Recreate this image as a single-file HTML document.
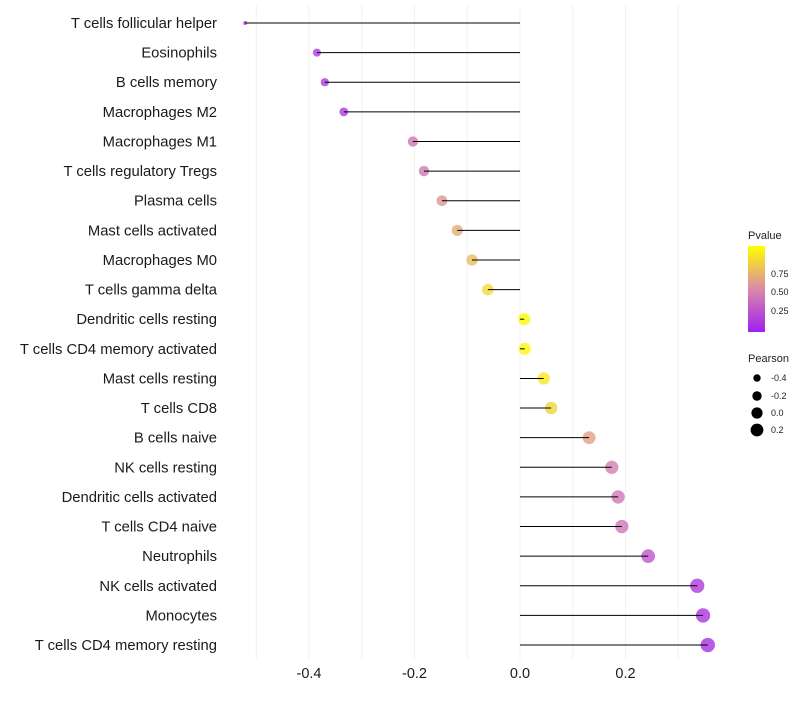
<!DOCTYPE html>
<html><head><meta charset="utf-8"><style>
body{margin:0;background:#fff;font-family:"Liberation Sans",sans-serif}
</style></head><body>
<svg id="c" width="800" height="700" xmlns="http://www.w3.org/2000/svg">
<defs><linearGradient id="pg" x1="0" y1="1" x2="0" y2="0">
<stop offset="0" stop-color="#a020f0"/><stop offset="0.5" stop-color="#d98aa8"/><stop offset="1" stop-color="#ffff00"/>
</linearGradient></defs>
<g id="grid"></g><g id="dots"></g><g id="marks"></g><g id="labels"></g><g id="xt"></g>
<g font-size="9" fill="#222">
<text x="748" y="239" font-size="11">Pvalue</text>
<rect x="748" y="246" width="17" height="86" fill="url(#pg)"/>
<text x="771" y="277">0.75</text><text x="771" y="295">0.50</text><text x="771" y="314">0.25</text>
<text x="748" y="362" font-size="11">Pearson</text>
<circle cx="757" cy="378" r="3.7" fill="#000"/><text x="771" y="381">-0.4</text>
<circle cx="757" cy="396" r="4.7" fill="#000"/><text x="771" y="399">-0.2</text>
<circle cx="757" cy="413" r="5.6" fill="#000"/><text x="771" y="416">0.0</text>
<circle cx="757" cy="430" r="6.4" fill="#000"/><text x="771" y="433">0.2</text>
</g>
</svg>
<script>
const categories=["T cells follicular helper","Eosinophils","B cells memory","Macrophages M2","Macrophages M1","T cells regulatory  Tregs","Plasma cells","Mast cells activated","Macrophages M0","T cells gamma delta","Dendritic cells resting","T cells CD4 memory activated","Mast cells resting","T cells CD8","B cells naive","NK cells resting","Dendritic cells activated","T cells CD4 naive","Neutrophils","NK cells activated","Monocytes","T cells CD4 memory resting"];
const pearson=[-0.521,-0.385,-0.370,-0.334,-0.203,-0.182,-0.148,-0.119,-0.091,-0.061,0.008,0.009,0.045,0.059,0.131,0.174,0.186,0.193,0.243,0.336,0.347,0.356];
const pvalue=[0.1,0.12,0.12,0.12,0.4,0.42,0.55,0.65,0.72,0.85,0.98,0.97,0.9,0.82,0.6,0.45,0.42,0.4,0.25,0.12,0.1,0.08];
const ticks=[-0.4,-0.2,0,0.2];
const grids=[-0.5,-0.4,-0.3,-0.2,-0.1,0,0.1,0.2,0.3];
const NS="http://www.w3.org/2000/svg";
const x=v=>520+v*527.5, y=i=>23+i*29.62;
function mk(t,a,p){const e=document.createElementNS(NS,t);for(const k in a)e.setAttribute(k,a[k]);p.appendChild(e);return e;}
function hex(h){return [1,3,5].map(i=>parseInt(h.substr(i,2),16));}
function col(p){const s=[hex("#a020f0"),hex("#d98aa8"),hex("#ffff00")];let a,b,t;if(p<0.5){a=s[0];b=s[1];t=p/0.5}else{a=s[1];b=s[2];t=(p-0.5)/0.5}return "rgb("+a.map((v,i)=>Math.round(v+(b[i]-v)*t)).join(",")+")";}
const G=document.getElementById("grid"),D=document.getElementById("dots"),M=document.getElementById("marks"),L=document.getElementById("labels"),X=document.getElementById("xt");
grids.forEach(g=>{const e=mk("line",{x1:x(g),x2:x(g),y1:5,y2:660,stroke:"#f2f2f2","stroke-width":1},G);

});
const mn=Math.min(...pearson),mx=Math.max(...pearson);
categories.forEach((c,i)=>{
const r=2+5.2*Math.sqrt((pearson[i]-mn)/(mx-mn));
const d=mk("circle",{cx:x(pearson[i]),cy:y(i),r:r,fill:col(pvalue[i]),"fill-opacity":0.8},D);


const l=mk("line",{x1:x(0),x2:x(pearson[i]),y1:y(i),y2:y(i),stroke:"#000","stroke-width":1},M);


const t=mk("text",{x:217,y:y(i)+5,"text-anchor":"end","font-size":14.8,fill:"#1a1a1a"},L);t.textContent=c;


});
ticks.forEach(v=>{const t=mk("text",{x:x(v),y:678,"text-anchor":"middle","font-size":14.5,fill:"#1a1a1a"},X);t.textContent=v.toFixed(1);

});
</script>
</body></html>
